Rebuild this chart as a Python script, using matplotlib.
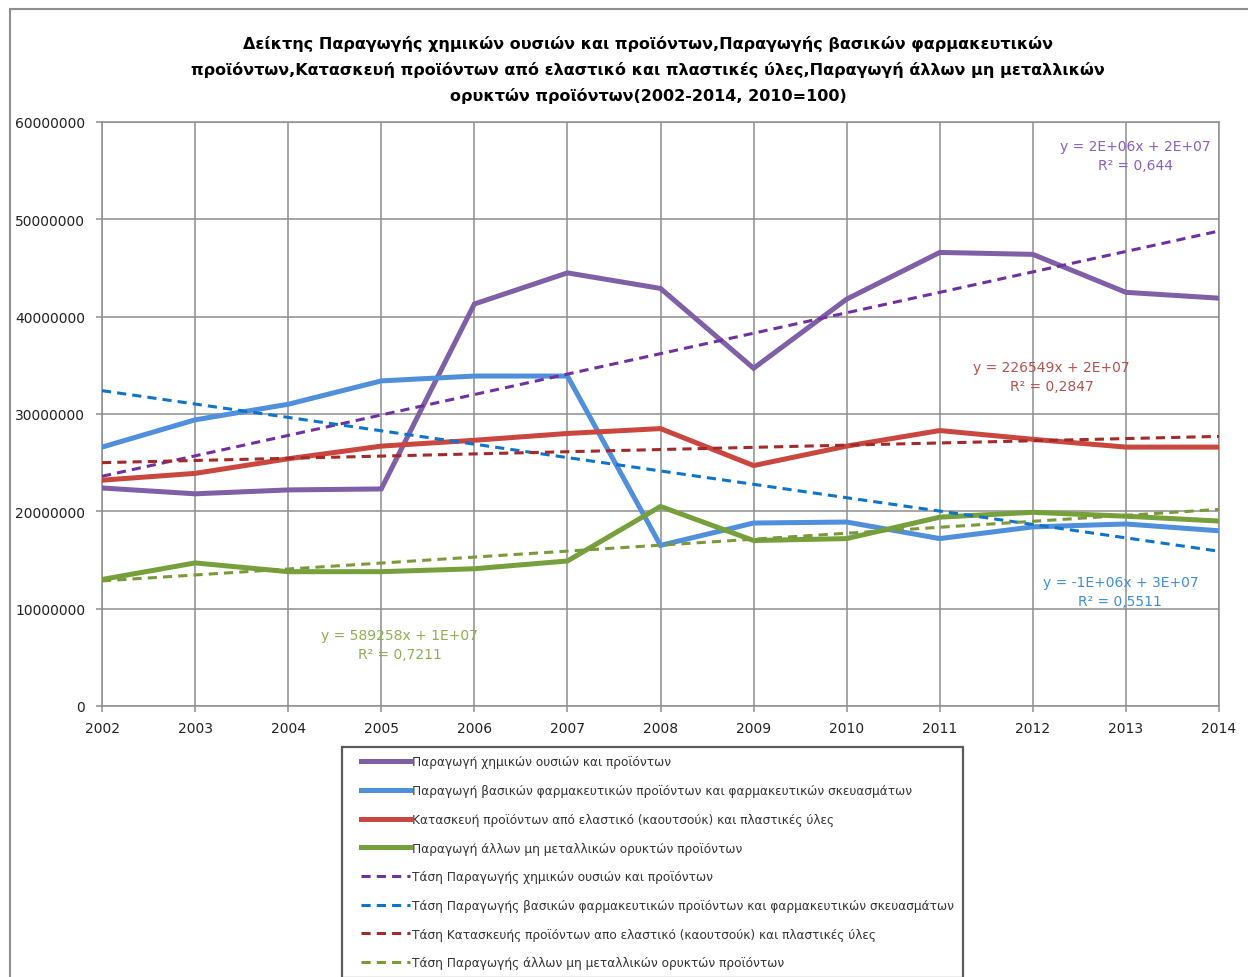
#!/usr/bin/env python3
import matplotlib
matplotlib.use('Agg')
from matplotlib import pyplot as plt
from matplotlib.lines import Line2D
from matplotlib.legend_handler import HandlerLine2D

years = [2002, 2003, 2004, 2005, 2006, 2007, 2008, 2009, 2010, 2011, 2012, 2013, 2014]

chemicals = [22.4e6, 21.8e6, 22.2e6, 22.3e6, 41.3e6, 44.5e6, 42.9e6, 34.7e6, 41.8e6, 46.6e6, 46.4e6, 42.5e6, 41.9e6]
pharma = [26.6e6, 29.4e6, 31.0e6, 33.4e6, 33.9e6, 33.9e6, 16.5e6, 18.8e6, 18.9e6, 17.2e6, 18.4e6, 18.7e6, 18.0e6]
rubber = [23.2e6, 23.9e6, 25.4e6, 26.7e6, 27.3e6, 28.0e6, 28.5e6, 24.7e6, 26.7e6, 28.3e6, 27.4e6, 26.6e6, 26.6e6]
minerals = [13.0e6, 14.7e6, 13.8e6, 13.8e6, 14.1e6, 14.9e6, 20.5e6, 17.0e6, 17.2e6, 19.4e6, 19.9e6, 19.5e6, 19.0e6]

# trend lines (values read at 2002 and 2014)
trend_years = [2002, 2014]
chemicals_trend = [23.6e6, 48.8e6]
pharma_trend = [32.4e6, 15.9e6]
rubber_trend = [25.0e6, 27.7e6]
minerals_trend = [12.85e6, 20.2e6]

labels = [
    'Παραγωγή χημικών ουσιών και προϊόντων',
    'Παραγωγή βασικών φαρμακευτικών προϊόντων και φαρμακευτικών σκευασμάτων',
    'Κατασκευή προϊόντων από ελαστικό (καουτσούκ) και πλαστικές ύλες',
    'Παραγωγή άλλων μη μεταλλικών ορυκτών προϊόντων',
]
trend_labels = [
    'Τάση Παραγωγής χημικών ουσιών και προϊόντων',
    'Τάση Παραγωγής βασικών φαρμακευτικών προϊόντων και φαρμακευτικών σκευασμάτων',
    'Τάση Κατασκευής προϊόντων απο ελαστικό (καουτσούκ) και πλαστικές ύλες',
    'Τάση Παραγωγής άλλων μη μεταλλικών ορυκτών προϊόντων',
]
equations = [
    'y = 2E+06x + 2E+07\nR² = 0,644',
    'y = -1E+06x + 3E+07\nR² = 0,5511',
    'y = 226549x + 2E+07\nR² = 0,2847',
    'y = 589258x + 1E+07\nR² = 0,7211',
]
eq_pos = [(2013.1, 56.6e6), (2012.94, 11.8e6), (2012.2, 33.9e6), (2005.2, 6.27e6)]

title = ('Δείκτης Παραγωγής χημικών ουσιών και προϊόντων,Παραγωγής βασικών φαρμακευτικών\n'
         'προϊόντων,Κατασκευή προϊόντων από ελαστικό και πλαστικές ύλες,Παραγωγή άλλων μη μεταλλικών\n'
         'ορυκτών προϊόντων(2002-2014, 2010=100)')

line_colors = ['#7F5FA6', '#4F8FDB', '#C9473F', '#76A03C']
trend_colors = ['#7030A0', '#0E74C8', '#A32A2A', '#7A9A3A']
eq_colors = ['#8A5FC0', '#3E8ED8', '#B5524E', '#8DAF52']

fig = plt.figure(figsize=(12.48, 9.78), dpi=100)
ax = fig.add_axes([102 / 1248, 1 - 707 / 978, 1117 / 1248, 584 / 978])

series = [chemicals, pharma, rubber, minerals]
trends = [chemicals_trend, pharma_trend, rubber_trend, minerals_trend]

handles = []
for s, c, lab in zip(series, line_colors, labels):
    h, = ax.plot(years, s, color=c, lw=3.6, label=lab, solid_joinstyle='miter', zorder=3)
    handles.append(h)
for t, c, lab in zip(trends, trend_colors, trend_labels):
    h, = ax.plot(trend_years, t, color=c, lw=2.2, ls=(0, (3, 2)), label=lab, zorder=4)
    handles.append(h)

for eq, (x, y), c in zip(equations, eq_pos, eq_colors):
    ax.text(x, y, eq, color=c, fontsize=10, ha='center', va='center', linespacing=1.45, zorder=5)

ax.set_xlim(2002, 2014)
ax.set_ylim(0, 60e6)
ax.set_xticks(years)
ax.set_yticks(range(0, 60000001, 10000000))
ax.set_yticklabels([str(v) for v in range(0, 60000001, 10000000)])
ax.grid(True, color='#8E8E8E', lw=1.1)
ax.set_axisbelow(True)
for sp in ax.spines.values():
    sp.set_color('#8E8E8E')
    sp.set_linewidth(1.1)
ax.tick_params(axis='both', colors='#8E8E8E', labelcolor='#222222', labelsize=10, length=4, width=1.1)
ax.tick_params(axis='y', pad=8)
ax.tick_params(axis='x', pad=7)

fig.text(648 / 1248, 1 - 70 / 978, title, ha='center', va='center', fontsize=11.5,
         fontweight='bold', linespacing=1.75)

leg = fig.legend(handles=handles, loc='upper left', bbox_to_anchor=(342 / 1248, 1 - 748 / 978),
                 fontsize=8.7, handlelength=4.9, handletextpad=0.2, labelspacing=1.3,
                 frameon=True, fancybox=False, borderaxespad=0, borderpad=0.7,
                 handler_map={Line2D: HandlerLine2D(xpad=0.9)})
leg.get_frame().set_edgecolor('#333333')
leg.get_frame().set_linewidth(1.6)
for t in leg.get_texts():
    t.set_color('#333333')

# outer chart frame (left and top edges visible)
fig.add_artist(Line2D([10 / 1248, 10 / 1248], [0, 1 - 10 / 978], color='#8E8E8E', lw=1.5))
fig.add_artist(Line2D([10 / 1248, 1], [1 - 10 / 978, 1 - 10 / 978], color='#8E8E8E', lw=1.5))

fig.savefig('out.png', dpi=100)
